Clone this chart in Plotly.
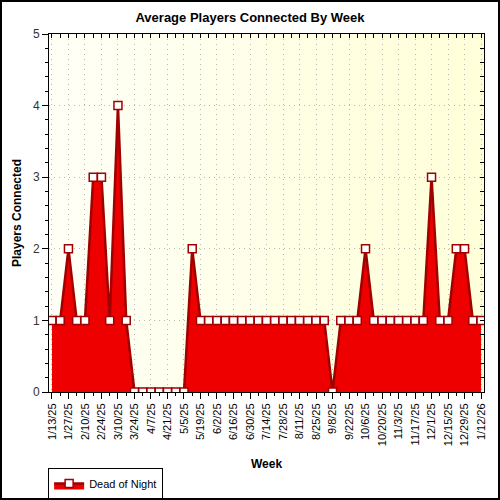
import pandas as pd
import plotly.graph_objects as go

# Weekly average of players connected (Dead of Night)
weeks = pd.date_range("2025-01-13", "2026-01-12", freq="7D")
players = [1, 1, 2, 1, 1, 3, 3, 1, 4, 1,
           0, 0, 0, 0, 0, 0, 0,
           2, 1, 1, 1, 1, 1, 1, 1, 1, 1, 1, 1, 1, 1, 1, 1, 1,
           0, 1, 1, 1, 2, 1, 1, 1, 1, 1, 1, 1,
           3, 1, 1, 2, 2, 1, 1]
series_name = "Dead of Night"

W, H = 500, 500
ml, mr, mt, mb = 49, 16, 34, 108
pw, ph = W - ml - mr, H - mt - mb

fig = go.Figure()
fig.add_trace(go.Scatter(
    x=weeks, y=players, name=series_name, mode="lines+markers",
    fill="tozeroy", fillcolor="#EE0000",
    line=dict(color="#A00000", width=2.5),
    marker=dict(symbol="square", size=8, color="white",
                line=dict(color="#A00000", width=1.5)),
))
# dummy trace so the top/right axes (inside ticks) get drawn
fig.add_trace(go.Scatter(x=[weeks[0]], y=[0], xaxis="x2", yaxis="y2",
                         mode="markers", marker=dict(opacity=0),
                         showlegend=False, hoverinfo="skip"))

xr = ["2025-01-10 12:00", "2026-01-14 12:00"]
week_ms = 7 * 86400000

# light yellow gradient behind the plot
n = 14
shapes = []
for i in range(n):
    t = i / (n - 1)
    b = int(246 - 28 * t)
    shapes.append(dict(type="rect", xref="x domain", yref="y domain",
                       x0=i / n, x1=(i + 1) / n + 0.002, y0=0, y1=1,
                       fillcolor=f"rgb(255,255,{b})", line=dict(width=0),
                       layer="below"))
# outer frame
shapes.append(dict(type="rect", xref="paper", yref="paper",
                   x0=(1 - ml) / pw, x1=(W - 1 - ml) / pw,
                   y0=-(mb - 1) / ph, y1=(ph + mt - 1) / ph,
                   line=dict(color="black", width=2)))

grid_dash = "1px,4px"

fig.update_layout(
    width=W, height=H,
    margin=dict(l=ml, r=mr, t=mt, b=mb, autoexpand=False),
    paper_bgcolor="white", plot_bgcolor="rgb(255,255,240)",
    font=dict(family="Arial, Liberation Sans", size=12, color="black"),
    title=dict(text="<b>Average Players Connected By Week</b>",
               x=0.5, xanchor="center", y=0.966, yanchor="middle",
               font=dict(size=13)),
    shapes=shapes,
    showlegend=True,
    legend=dict(x=-0.002, y=-0.212, xanchor="left", yanchor="top",
                bordercolor="black", borderwidth=1, bgcolor="white",
                font=dict(size=11), itemwidth=30,
                tracegroupgap=0),
    xaxis=dict(
        type="date", range=xr, tick0="2025-01-13", dtick=2 * week_ms,
        tickformat="%-m/%-d/%y", tickangle=-90, tickfont=dict(size=11),
        ticks="outside", ticklen=6, tickcolor="black", automargin=False,
        minor=dict(dtick=week_ms, tick0="2025-01-13", ticks="outside",
                   ticklen=3, tickcolor="black", showgrid=False),
        showgrid=True, gridcolor="#B8B8B8", griddash=grid_dash, gridwidth=1,
        showline=True, linecolor="black", linewidth=1, mirror=True,
        zeroline=False,
        title=dict(text="<b>Week</b>", font=dict(size=12), standoff=14),
    ),
    yaxis=dict(
        range=[0, 5], dtick=1, tick0=0, automargin=False,
        ticks="outside", ticklen=6, tickcolor="black",
        minor=dict(dtick=0.2, ticks="outside", ticklen=3,
                   tickcolor="black", showgrid=False),
        showgrid=True, gridcolor="#B8B8B8", griddash=grid_dash, gridwidth=1,
        showline=True, linecolor="black", linewidth=1, mirror=True,
        zeroline=False, tickfont=dict(size=12, color="#333333"),
        title=dict(text="<b>Players Connected</b>", font=dict(size=12),
                   standoff=8),
    ),
    xaxis2=dict(
        type="date", range=xr, overlaying="x", side="top", anchor="y",
        tick0="2025-01-13", dtick=week_ms, ticks="inside", ticklen=4,
        tickcolor="black", showticklabels=False, showgrid=False,
        zeroline=False, automargin=False,
    ),
    yaxis2=dict(
        range=[0, 5], overlaying="y", side="right", anchor="x",
        dtick=0.2, tick0=0, ticks="inside", ticklen=4, tickcolor="black",
        showticklabels=False, showgrid=False, zeroline=False,
        automargin=False,
    ),
)

# page has a default 8px body margin; drop it so the chart sits at 0,0
fig.write_html("out.html", config={"displayModeBar": False},
               post_script="document.body.style.margin='0';")
